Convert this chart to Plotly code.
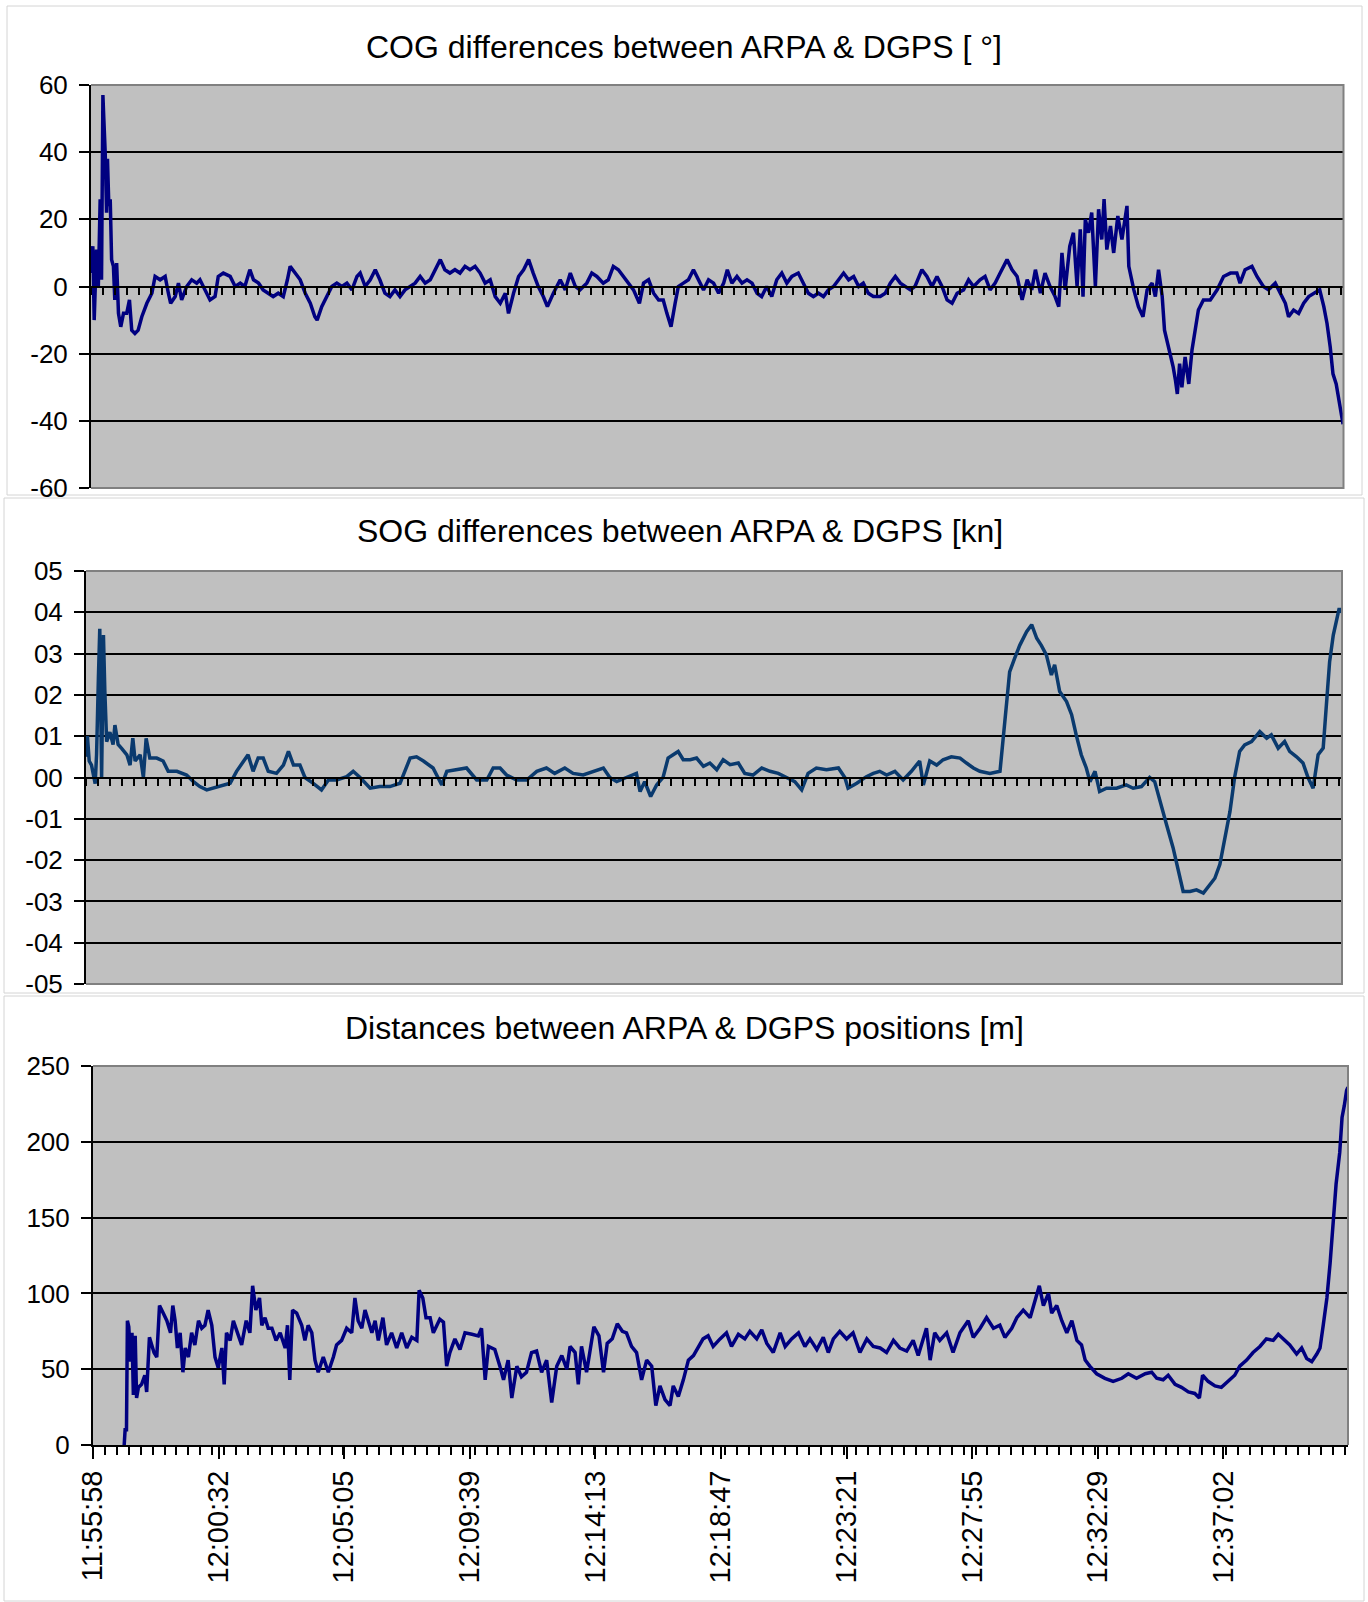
import plotly.graph_objects as go

W, H = 1368, 1602

# ---------------- data ----------------
time_labels = ["11:55:58", "12:00:32", "12:05:05", "12:09:39", "12:14:13",
               "12:18:47", "12:23:21", "12:27:55", "12:32:29", "12:37:02"]
record_end_s = 2736          # last record, seconds after 11:55:58
tick_step_s = 26             # minor tick interval (s)

# COG differences [deg]  (t = seconds after 11:55:58)
cog_t = [0, 4, 7, 12, 16, 20, 23, 26, 28, 31,
         34, 36, 39, 42, 45, 49, 52, 56, 60, 65,
         71, 78, 84, 89, 96, 103, 111, 122, 133, 140,
         151, 162, 169, 174, 184, 191, 198, 209, 220, 231,
         238, 249, 260, 271, 278, 289, 304, 315, 326, 336,
         347, 355, 366, 376, 387, 398, 409, 420, 429, 435,
         446, 457, 468, 479, 489, 494, 504, 515, 526, 537,
         548, 559, 570, 581, 588, 599, 610, 621, 631, 642,
         653, 664, 675, 686, 697, 708, 719, 730, 741, 752,
         763, 773, 784, 795, 806, 817, 828, 839, 850, 861,
         872, 883, 894, 905, 912, 923, 934, 945, 956, 966,
         977, 988, 997, 1010, 1025, 1036, 1047, 1058, 1068, 1083,
         1094, 1105, 1119, 1130, 1141, 1152, 1163, 1174, 1185, 1198,
         1207, 1218, 1229, 1240, 1250, 1258, 1267, 1276, 1283, 1294,
         1305, 1316, 1327, 1338, 1349, 1360, 1371, 1382, 1390, 1400,
         1411, 1422, 1433, 1444, 1455, 1465, 1476, 1487, 1498, 1509,
         1520, 1531, 1545, 1556, 1567, 1578, 1589, 1600, 1611, 1622,
         1633, 1644, 1655, 1666, 1677, 1687, 1698, 1709, 1724, 1735,
         1746, 1757, 1768, 1779, 1790, 1800, 1815, 1826, 1837, 1848,
         1859, 1870, 1881, 1892, 1906, 1917, 1928, 1942, 1953, 1964,
         1975, 1986, 2001, 2012, 2023, 2034, 2045, 2055, 2063, 2074,
         2084, 2095, 2106, 2114, 2121, 2128, 2138, 2146, 2154, 2161,
         2167, 2172, 2179, 2186, 2194, 2201, 2208, 2213, 2219, 2227,
         2234, 2243, 2252, 2263, 2267, 2278, 2288, 2298, 2307, 2318,
         2325, 2332, 2340, 2345, 2352, 2358, 2364, 2369, 2373, 2378,
         2383, 2390, 2398, 2405, 2412, 2419, 2430, 2445, 2460, 2474,
         2489, 2503, 2510, 2521, 2536, 2547, 2561, 2572, 2587, 2598,
         2609, 2616, 2627, 2638, 2649, 2660, 2671, 2684, 2693, 2700,
         2707, 2713, 2720, 2728, 2735]
cog_v = [4, 12, -10, 11, 0, 26, 2, 57, 50, 40,
         22, 38, 24, 26, 8, 6, -4, 7, -8, -12,
         -8, -8, -4, -13, -14, -13, -9, -5, -2, 3,
         2, 3, -2, -5, -3, 1, -4, 0, 2, 1,
         2, -1, -4, -3, 3, 4, 3, 0, 1, 0,
         5, 2, 1, -1, -2, -3, -2, -3, 2, 6,
         4, 2, -2, -5, -9, -10, -6, -3, 0, 1,
         0, 1, -1, 3, 4, 0, 2, 5, 2, -2,
         -3, -1, -3, -1, 0, 1, 3, 1, 2, 5,
         8, 5, 4, 5, 4, 6, 5, 6, 4, 1,
         2, -3, -5, -2, -8, -2, 3, 5, 8, 4,
         0, -3, -6, -2, 2, -1, 4, 0, -1, 1,
         4, 3, 1, 2, 6, 5, 3, 1, -1, -5,
         1, 2, -2, -4, -4, -8, -12, -5, 0, 1,
         2, 5, 2, -1, 2, 1, -2, 1, 5, 1,
         3, 1, 2, 1, -2, -3, 0, -3, 2, 4,
         1, 3, 4, 1, -2, -3, -2, -3, -1, 0,
         2, 4, 2, 3, 0, 1, -2, -3, -3, -2,
         1, 3, 1, 0, -1, 0, 5, 3, 0, 3,
         0, -4, -5, -2, -1, 2, 0, 2, 3, -1,
         1, 4, 8, 5, 3, -4, 2, -1, 5, -2,
         4, 0, -3, -6, 10, -1, 12, 16, 0, 17,
         -3, 20, 16, 22, 0, 23, 14, 26, 11, 18,
         10, 21, 14, 24, 6, -1, -6, -9, -1, 1,
         -3, 5, -3, -13, -17, -20, -24, -28, -32, -23,
         -30, -21, -29, -19, -13, -7, -4, -4, -1, 3,
         4, 4, 1, 5, 6, 3, 0, -1, 1, -2,
         -5, -9, -7, -8, -5, -3, -2, -1, -6, -11,
         -18, -26, -29, -35, -41]

# SOG differences [kn]
sog_t = [0, 3, 7, 12, 20, 23, 27, 30, 34, 38,
         41, 45, 52, 59, 63, 70, 78, 89, 96, 102,
         107, 118, 125, 131, 139, 154, 168, 179, 198, 219,
         234, 248, 263, 277, 292, 314, 328, 343, 353, 364,
         375, 386, 397, 415, 430, 441, 452, 466, 477, 495,
         513, 528, 546, 568, 582, 597, 619, 640, 662, 684,
         706, 720, 735, 756, 775, 786, 815, 829, 851, 873,
         887, 902, 916, 938, 960, 982, 1003, 1021, 1043, 1061,
         1083, 1105, 1127, 1141, 1156, 1177, 1199, 1207, 1217, 1230,
         1243, 1257, 1268, 1279, 1290, 1301, 1316, 1330, 1345, 1359,
         1374, 1388, 1403, 1421, 1435, 1453, 1472, 1490, 1508, 1526,
         1544, 1559, 1573, 1591, 1613, 1639, 1653, 1660, 1679, 1700,
         1715, 1729, 1744, 1762, 1780, 1798, 1816, 1824, 1838, 1853,
         1867, 1885, 1904, 1918, 1933, 1947, 1969, 1991, 1998, 2004,
         2012, 2023, 2034, 2049, 2060, 2071, 2081, 2092, 2103, 2110,
         2121, 2136, 2147, 2157, 2168, 2179, 2187, 2198, 2208, 2223,
         2245, 2266, 2281, 2299, 2317, 2328, 2339, 2354, 2368, 2379,
         2390, 2405, 2419, 2434, 2448, 2459, 2470, 2481, 2492, 2502,
         2513, 2524, 2539, 2557, 2572, 2582, 2597, 2611, 2622, 2637,
         2651, 2662, 2673, 2684, 2695, 2702, 2709, 2717, 2724, 2730,
         2733]
sog_v = [0.05, 0.10, 0.04, 0.03, -0.015, 0.055, 0.24, 0.36, 0.0, 0.345,
         0.21, 0.087, 0.11, 0.08, 0.127, 0.08, 0.07, 0.055, 0.03, 0.095,
         0.04, 0.055, 0.0, 0.095, 0.047, 0.047, 0.04, 0.015, 0.015, 0.006,
         -0.01, -0.022, -0.03, -0.026, -0.022, -0.014, 0.015, 0.04, 0.055, 0.015,
         0.047, 0.047, 0.015, 0.01, 0.03, 0.063, 0.03, 0.03, 0.0, -0.014,
         -0.03, -0.006, -0.006, 0.002, 0.015, 0.0, -0.026, -0.022, -0.022, -0.014,
         0.047, 0.05, 0.04, 0.023, -0.018, 0.015, 0.02, 0.023, -0.006, -0.006,
         0.023, 0.023, 0.006, -0.006, -0.006, 0.015, 0.023, 0.01, 0.023, 0.01,
         0.006, 0.015, 0.023, 0.0, -0.01, 0.0, 0.01, -0.034, -0.01, -0.046,
         -0.018, 0.0, 0.047, 0.055, 0.063, 0.043, 0.043, 0.047, 0.027, 0.035,
         0.019, 0.043, 0.031, 0.035, 0.01, 0.006, 0.023, 0.015, 0.01, 0.0,
         -0.01, -0.03, 0.01, 0.023, 0.019, 0.023, 0.0, -0.026, -0.014, 0.002,
         0.01, 0.015, 0.006, 0.015, -0.006, 0.015, 0.04, -0.018, 0.04, 0.03,
         0.043, 0.05, 0.047, 0.035, 0.023, 0.015, 0.01, 0.015, 0.095, 0.176,
         0.256, 0.289, 0.32, 0.353, 0.37, 0.337, 0.32, 0.297, 0.248, 0.273,
         0.208, 0.184, 0.152, 0.103, 0.055, 0.023, -0.01, 0.015, -0.034, -0.026,
         -0.026, -0.018, -0.026, -0.022, 0.0, -0.01, -0.058, -0.115, -0.17, -0.22,
         -0.276, -0.276, -0.272, -0.28, -0.26, -0.244, -0.21, -0.147, -0.082, 0.0,
         0.063, 0.079, 0.087, 0.111, 0.095, 0.103, 0.071, 0.087, 0.063, 0.05,
         0.035, 0.0, -0.026, 0.055, 0.071, 0.176, 0.28, 0.345, 0.385, 0.41,
         0.398]

# Distances between ARPA & DGPS positions [m]
dist_t = [68, 70, 73, 75, 78, 82, 85, 88, 92, 95,
          99, 106, 113, 117, 123, 128, 133, 139, 145, 153,
          161, 169, 174, 179, 184, 190, 196, 201, 208, 215,
          222, 230, 237, 244, 251, 259, 266, 273, 281, 286,
          291, 299, 306, 315, 324, 334, 342, 348, 355, 363,
          368, 375, 382, 390, 399, 408, 419, 424, 429, 435,
          444, 455, 462, 469, 477, 484, 491, 502, 513, 524,
          531, 542, 553, 564, 571, 578, 586, 593, 600, 608,
          615, 622, 632, 640, 651, 662, 673, 684, 695, 706,
          711, 719, 726, 735, 742, 753, 756, 764, 771, 778,
          789, 800, 811, 826, 840, 847, 855, 862, 876, 887,
          895, 905, 913, 924, 934, 945, 956, 967, 978, 989,
          1000, 1011, 1022, 1033, 1040, 1051, 1058, 1065, 1076, 1083,
          1092, 1103, 1113, 1121, 1132, 1143, 1154, 1163, 1174, 1185,
          1196, 1207, 1218, 1227, 1236, 1247, 1258, 1265, 1276, 1287,
          1298, 1309, 1320, 1330, 1341, 1352, 1367, 1381, 1392, 1407,
          1421, 1432, 1447, 1458, 1469, 1483, 1498, 1509, 1523, 1538,
          1552, 1563, 1578, 1592, 1603, 1614, 1628, 1643, 1657, 1672,
          1687, 1701, 1716, 1730, 1745, 1759, 1774, 1788, 1799, 1806,
          1817, 1825, 1835, 1846, 1861, 1875, 1890, 1908, 1919, 1934,
          1948, 1963, 1977, 1988, 2003, 2014, 2028, 2043, 2054, 2063,
          2072, 2083, 2090, 2101, 2112, 2123, 2134, 2145, 2155, 2163,
          2173, 2188, 2206, 2224, 2243, 2257, 2275, 2294, 2308, 2319,
          2333, 2344, 2359, 2373, 2388, 2402, 2412, 2419, 2431, 2446,
          2460, 2475, 2489, 2500, 2515, 2529, 2544, 2558, 2573, 2584,
          2598, 2609, 2624, 2635, 2646, 2657, 2668, 2675, 2682, 2690,
          2697, 2704, 2710, 2718, 2723, 2728, 2733, 2736]
dist_v = [0, 10, 10, 82, 78, 55, 74, 33, 72, 31,
          38, 40, 46, 35, 71, 66, 61, 58, 92, 87,
          82, 74, 92, 82, 64, 74, 48, 64, 58, 74,
          66, 82, 77, 79, 89, 79, 58, 51, 64, 40,
          74, 69, 82, 74, 66, 82, 74, 105, 89, 97,
          79, 84, 77, 77, 69, 74, 64, 79, 43, 89,
          87, 79, 69, 79, 74, 56, 48, 58, 48, 58,
          66, 69, 77, 74, 97, 82, 77, 89, 82, 74,
          82, 69, 84, 66, 74, 64, 74, 64, 71, 69,
          102, 97, 84, 84, 74, 82, 83, 81, 52, 61,
          70, 63, 74, 73, 72, 77, 43, 65, 63, 52,
          43, 56, 31, 52, 45, 48, 61, 62, 48, 56,
          28, 52, 59, 50, 65, 61, 40, 65, 48, 61,
          78, 72, 48, 67, 70, 80, 75, 74, 65, 61,
          43, 56, 52, 26, 39, 30, 26, 39, 32, 43,
          56, 59, 65, 70, 72, 65, 70, 74, 65, 73,
          70, 75, 70, 76, 67, 61, 74, 65, 70, 74,
          65, 70, 63, 71, 61, 70, 75, 70, 74, 61,
          70, 65, 64, 61, 69, 64, 62, 69, 59, 66,
          77, 56, 74, 69, 74, 61, 74, 82, 71, 77,
          84, 77, 79, 71, 77, 84, 89, 84, 95, 105,
          92, 100, 87, 92, 82, 74, 82, 69, 66, 56,
          52, 47, 44, 42, 44, 47, 44, 47, 48, 44,
          43, 46, 40, 38, 35, 34, 31, 46, 42, 39,
          38, 42, 46, 52, 56, 61, 65, 70, 69, 73,
          69, 66, 60, 64, 57, 55, 60, 64, 79, 97,
          120, 146, 172, 193, 216, 224, 234, 236]

cog_ticks = [-60, -40, -20, 0, 20, 40, 60]
sog_ticks = [-0.5, -0.4, -0.3, -0.2, -0.1, 0.0, 0.1, 0.2, 0.3, 0.4, 0.5]
sog_tick_text = ["-05", "-04", "-03", "-02", "-01", "00", "01", "02", "03", "04", "05"]
dist_ticks = [0, 50, 100, 150, 200, 250]

titles = ["COG differences between ARPA & DGPS [ \u00b0]",
          "SOG differences between ARPA & DGPS [kn]",
          "Distances between ARPA & DGPS positions [m]"]

assert len(cog_t) == len(cog_v)
assert len(sog_t) == len(sog_v)
assert len(dist_t) == len(dist_v)


def secs(s):
    h, m, x = (int(p) for p in s.split(":"))
    return h * 3600 + m * 60 + x


t0 = secs(time_labels[0])
tick_pos = [secs(s) - t0 for s in time_labels]

# ---------------- layout helpers (pixels -> paper) ----------------
def px_x(a, b):
    return [a / W, b / W]


def px_y(top, bottom):
    return [1 - bottom / H, 1 - top / H]


FONT = "Liberation Sans, Arial, sans-serif"
NAVY = "#000080"
SOG_BLUE = "#0A3A6E"
PLOT_BG = "#C0C0C0"

panels = [
    dict(x=(91, 1343.5), y=(85, 488)),
    dict(x=(86, 1342), y=(571, 984)),
    dict(x=(93, 1348), y=(1066, 1445)),
]

fig = go.Figure()
fig.add_trace(go.Scatter(x=cog_t, y=cog_v, mode="lines", xaxis="x", yaxis="y",
                         line=dict(color=NAVY, width=3.5), hoverinfo="skip"))
fig.add_trace(go.Scatter(x=sog_t, y=sog_v, mode="lines", xaxis="x2", yaxis="y2",
                         line=dict(color=SOG_BLUE, width=3.5), hoverinfo="skip"))
fig.add_trace(go.Scatter(x=dist_t, y=dist_v, mode="lines", xaxis="x3", yaxis="y3",
                         line=dict(color=NAVY, width=3.5), hoverinfo="skip"))

common_y = dict(showline=True, linecolor="black", linewidth=2, ticks="outside",
                ticklen=10, tickwidth=2, tickcolor="black", showgrid=True,
                gridcolor="black", gridwidth=2, zeroline=False, automargin=False,
                tickfont=dict(size=26, family=FONT, color="black"),
                ticklabelstandoff=6, fixedrange=True)

mid_x = dict(showline=True, linecolor="black", linewidth=2, ticks="outside",
             ticklen=7, tickwidth=2, tickcolor="black", tickmode="linear",
             tick0=0, dtick=tick_step_s, showticklabels=False, showgrid=False,
             zeroline=False, range=[0, record_end_s], anchor="free",
             automargin=False, fixedrange=True)

d1, d2, d3 = panels
y1 = px_y(*d1["y"])
y2 = px_y(*d2["y"])
y3 = px_y(*d3["y"])

fig.update_layout(
    template="none",
    width=W, height=H,
    margin=dict(l=0, r=0, t=0, b=0, pad=0),
    paper_bgcolor="white", plot_bgcolor=PLOT_BG,
    showlegend=False,
    font=dict(family=FONT, color="black"),
    xaxis=dict(domain=px_x(*d1["x"]), position=(y1[0] + y1[1]) / 2, **mid_x),
    yaxis=dict(domain=y1, range=[-60, 60], anchor="x", tickmode="array",
               tickvals=cog_ticks, ticktext=[str(v) for v in cog_ticks], **common_y),
    xaxis2=dict(domain=px_x(*d2["x"]), position=(y2[0] + y2[1]) / 2, **mid_x),
    yaxis2=dict(domain=y2, range=[-0.5, 0.5], anchor="x2", tickmode="array",
                tickvals=sog_ticks, ticktext=sog_tick_text, **common_y),
    xaxis3=dict(domain=px_x(*d3["x"]), range=[0, record_end_s], anchor="y3",
                showline=True, linecolor="black", linewidth=2, ticks="outside",
                ticklen=12, tickwidth=2, tickcolor="black", tickmode="array",
                tickvals=tick_pos, ticktext=time_labels, tickangle=-90,
                tickfont=dict(size=29, family=FONT, color="black"),
                minor=dict(tickmode="linear", tick0=0, dtick=tick_step_s,
                           ticks="outside", ticklen=8, tickwidth=2,
                           tickcolor="black", showgrid=False),
                showgrid=False, zeroline=False, automargin=False, fixedrange=True),
    yaxis3=dict(domain=y3, range=[0, 250], anchor="x3", tickmode="array",
                tickvals=dist_ticks, ticktext=[str(v) for v in dist_ticks], **common_y),
)

shapes = []
# chart-area cards (light frames)
for (l, t, r, b) in [(7, 6, 1362, 495), (4, 498, 1364, 993), (4, 996, 1364, 1601)]:
    shapes.append(dict(type="rect", xref="paper", yref="paper",
                       x0=l / W, x1=r / W, y0=1 - b / H, y1=1 - t / H,
                       line=dict(color="#D4D4D4", width=1), layer="below"))
# gray plot-area borders
for i, d in enumerate(panels):
    xl, xr = d["x"][0] / W, d["x"][1] / W
    yb, yt = 1 - d["y"][1] / H, 1 - d["y"][0] / H
    if i < 2:
        path = f"M{xl},{yb} L{xr},{yb} L{xr},{yt} L{xl},{yt}"
    else:
        path = f"M{xl},{yt} L{xr},{yt} L{xr},{yb}"
    shapes.append(dict(type="path", xref="paper", yref="paper", path=path,
                       line=dict(color="#808080", width=2), layer="above"))
fig.update_layout(shapes=shapes)

title_pos = [(684, 47), (680, 531), (684, 1028)]
for txt, (tx, ty) in zip(titles, title_pos):
    fig.add_annotation(text=txt, xref="paper", yref="paper", x=tx / W, y=1 - ty / H,
                       xanchor="center", yanchor="middle", showarrow=False,
                       font=dict(size=32, family=FONT, color="black"))

fig.write_html("out.html", config={"displayModeBar": False},
               post_script="document.body.style.margin='0';document.body.style.overflow='hidden';")
